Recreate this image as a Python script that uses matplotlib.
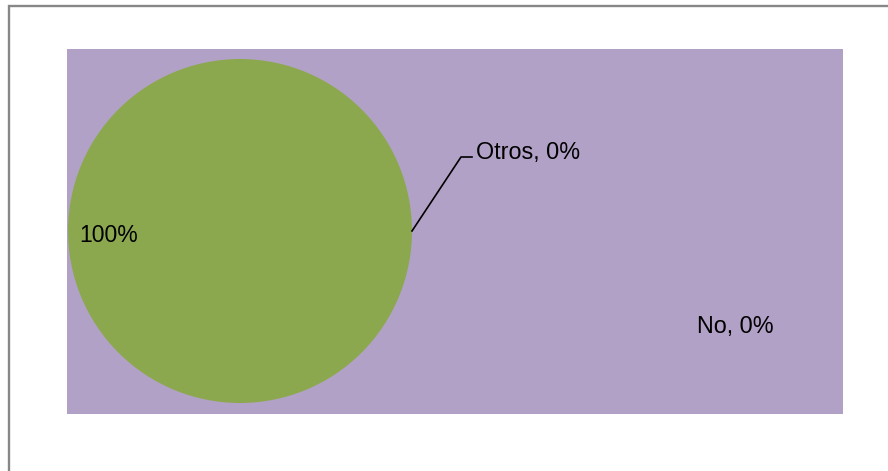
import matplotlib
matplotlib.use('Agg')
import matplotlib.pyplot as plt
from matplotlib.patches import Rectangle

categories = ['Sí', 'Otros', 'No']
values = [100, 0, 0]
labels = ['100%', 'Otros, 0%', 'No, 0%']

W, H = 888, 471
fig = plt.figure(figsize=(W / 100, H / 100), dpi=100)
fig.patch.set_facecolor('white')

# outer chart border (right/bottom edges fall outside the picture)
fig.add_artist(Rectangle((8.5 / W, -0.05), 1.2, 1.05 - 5.5 / H,
                         transform=fig.transFigure, fill=False,
                         edgecolor='#878787', linewidth=1.7))

# plot area
bg = fig.add_axes([67 / W, (H - 414) / H, (843 - 67) / W, (414 - 49) / H])
bg.set_facecolor('#b2a1c7')
bg.set_xticks([])
bg.set_yticks([])
for s in bg.spines.values():
    s.set_visible(False)

# pie axes centered at (240, 231) px, radius 172 px
cx, cy, r = 240, 231, 172
ax = fig.add_axes([(cx - r) / W, (H - cy - r) / H, 2 * r / W, 2 * r / H])
ax.pie(values, colors=['#8ca84f', '#8ca84f', '#8ca84f'], startangle=90,
       counterclock=False, radius=1.0,
       wedgeprops=dict(linewidth=0))
ax.set_xlim(-1, 1)
ax.set_ylim(-1, 1)
ax.set_aspect('auto')
ax.axis('off')

font = dict(family='Liberation Sans', color='black')

# label for the full slice
fig.text(79 / W, (H - 236) / H, labels[0], fontsize=16.5, va='center', ha='left', **font)

# leader line to "Otros"
fig.add_artist(plt.Line2D([412 / W, 461 / W, 472 / W],
                          [(H - 231) / H, (H - 157) / H, (H - 157) / H],
                          transform=fig.transFigure, color='black', linewidth=1.2))
fig.text(476 / W, (H - 152) / H, labels[1], fontsize=16.8, va='center', ha='left', **font)

fig.text(697 / W, (H - 327) / H, labels[2], fontsize=16.8, va='center', ha='left', **font)

fig.savefig('out.png', dpi=100)
